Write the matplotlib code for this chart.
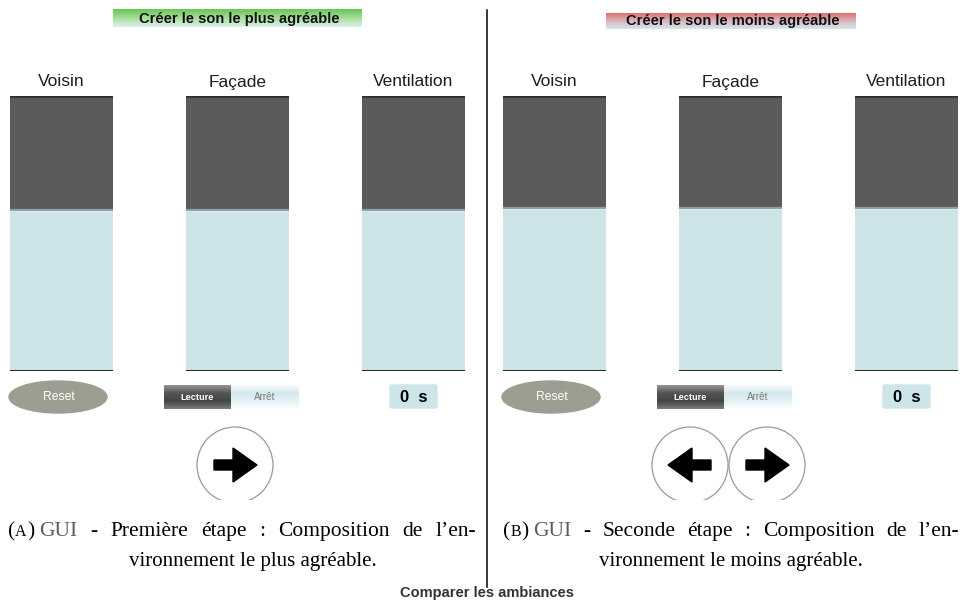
import numpy as np
import matplotlib
matplotlib.use('Agg')
import matplotlib.pyplot as plt
from matplotlib.patches import Ellipse, Circle, Rectangle, Polygon, FancyBboxPatch

plt.rcParams['font.family'] = ['Liberation Sans', 'DejaVu Sans']

# slider data (fill level of the light part, 0..1)
sources = ['Voisin', 'Façade', 'Ventilation']
levels_a = [0.585, 0.585, 0.585]
levels_b = [0.593, 0.593, 0.593]
titles = ['Créer le son le plus agréable', 'Créer le son le moins agréable']
timer_text = ['0  s', '0  s']
captions = [
    ('A', '- Première étape : Composition de l\u2019en-', 'vironnement le plus agréable.'),
    ('B', '- Seconde étape : Composition de l\u2019en-', 'vironnement le moins agréable.'),
]
footer = 'Comparer les ambiances'

W, H = 963, 603
fig = plt.figure(figsize=(W / 100, H / 100), dpi=100)
ax = fig.add_axes([0, 0, 1, 1])
ax.set_xlim(0, W)
ax.set_ylim(H, 0)
ax.axis('off')

DARK = '#5a5a5a'
LIGHT = '#cde4e8'


def gradient(x0, x1, y0, y1, stops):
    # vertical gradient box drawn with imshow, stops = list of rgb from top to bottom
    n = 64
    t = np.linspace(0, 1, n)
    pos = np.linspace(0, 1, len(stops))
    arr = np.zeros((n, 2, 3))
    for c in range(3):
        col = np.interp(t, pos, [s[c] / 255 for s in stops])
        arr[:, :, c] = col[:, None]
    ax.imshow(arr, extent=(x0, x1, y1, y0), aspect='auto', interpolation='bilinear', zorder=1)


def slider(x0, level, label):
    y_top, y_bot, w = 96, 371, 103
    sax = fig.add_axes([x0 / W, 1 - y_bot / H, w / W, (y_bot - y_top) / H])
    sax.bar(0, level, width=1, color=LIGHT, align='center')
    sax.bar(0, 1 - level, bottom=level, width=1, color=DARK, align='center')
    sax.axhline(level, color='#8ea2a5', lw=1.6)
    sax.axhline(level - 0.004, color='#e6f1f3', lw=0.6)
    sax.axhline(1, color='#2f2f2f', lw=2.6)
    sax.axhline(0, color='#2f2f2f', lw=2.2)
    sax.set_xlim(-0.5, 0.5)
    sax.set_ylim(0, 1)
    sax.axis('off')
    ax.text(x0 + w / 2, 86.5, label, ha='center', va='baseline', fontsize=12.5, color='#1e1e1e')


def arrow(cx, cy, direction):
    d = direction
    pts = [(-21, -5), (-2, -5), (-2, -17), (22, 0), (-2, 17), (-2, 5), (-21, 5)]
    pts = [(cx + d * px, cy + py) for px, py in pts]
    ax.add_patch(Polygon(pts, closed=True, color='black', zorder=4))


def button_circle(cx, cy):
    c = Circle((cx, cy), 38, facecolor='white', edgecolor='#9a9a9a', lw=0.9, zorder=3)
    ax.add_patch(c)
    clip = Rectangle((cx - 45, cy - 45), 90, 80, transform=ax.transData)
    c.set_clip_path(clip)


def text_width(t, renderer):
    inv = ax.transData.inverted()
    bb = t.get_window_extent(renderer)
    return inv.transform((bb.x1, bb.y0))[0] - inv.transform((bb.x0, bb.y0))[0]


def caption(x_left, x_right, cx2, letter, rest, line2):
    renderer = fig.canvas.get_renderer()
    serif = dict(family='Liberation Serif', ha='left', va='baseline')
    # label "(A)" sits at a fixed gap, the remaining words are justified
    label = [('(', 15.5, 'black'), (letter, 11.5, 'black'), (')', 15.5, 'black')]
    words = [[('GUI', 15.5, '#5c5c5c')]]
    words += [[(w, 15.5, 'black')] for w in rest.split(' ')]
    x = x_left
    for s, fs, col in label:
        t = ax.text(x, 536, s, fontsize=fs, color=col, **serif)
        x += text_width(t, renderer)
    x += 5
    objs = []
    total = 0
    for word in words:
        for s, fs, col in word:
            t = ax.text(0, 536, s, fontsize=fs, color=col, **serif)
            wdt = text_width(t, renderer)
            objs.append((t, wdt))
            total += wdt
    gap = (x_right - x - total) / (len(objs) - 1)
    for t, wdt in objs:
        t.set_x(x)
        x += wdt + gap
    ax.text(cx2, 566, line2, fontsize=15, color='black', family='Liberation Serif',
            ha='center', va='baseline')


panels = [(0, levels_a, [(105, 198, 85), (165, 222, 155), (222, 240, 238)]),
          (493, levels_b, [(222, 112, 112), (216, 185, 190), (212, 232, 236)])]
banner_y = [(9, 27), (13, 29)]
banner_x = [(113, 362), (606, 856)]

for i, (off, levels, stops) in enumerate(panels):
    # sliders
    for j, (name, lev) in enumerate(zip(sources, levels)):
        slider(10 + off + j * 176, lev, name)

    # title banner
    bx0, bx1 = banner_x[i]
    by0, by1 = banner_y[i]
    gradient(bx0, bx1, by0, by1, stops)
    ax.text((bx0 + bx1) / 2 + 2, (by0 + by1) / 2 + 0.5, titles[i], ha='center', va='center',
            fontsize=10.5, fontweight='bold', color='#111111', zorder=2)

    # reset button
    ax.add_patch(Ellipse((58 + off, 397), 98, 32, color='#9b9e90', zorder=2))
    ax.text(59 + off, 397.5, 'Reset', ha='center', va='center', fontsize=8.7, color='white', zorder=3)

    # lecture / arret toggle
    tx0 = 164 + off
    gradient(tx0, tx0 + 67, 385, 409, [(150, 150, 150), (85, 85, 85), (68, 68, 68), (125, 125, 125)])
    gradient(tx0 + 67, tx0 + 135, 385, 409, [(250, 252, 252), (212, 232, 237), (228, 241, 244), (252, 253, 253)])
    ax.text(tx0 + 33, 397.5, 'Lecture', ha='center', va='center', fontsize=6.6,
            fontweight='bold', color='white', zorder=3)
    ax.text(tx0 + 101, 397, 'Arrêt', ha='center', va='center', fontsize=7.2,
            color='#7a7a7a', zorder=3)

    # timer box
    ax.add_patch(FancyBboxPatch((390 + off, 385), 47, 23, boxstyle='round,pad=0,rounding_size=2',
                                color=LIGHT, zorder=2))
    ax.text(413.5 + off, 397, timer_text[i], ha='center', va='center', fontsize=12,
            fontweight='bold', color='black', zorder=3)

# navigation buttons
button_circle(235, 465)
arrow(235, 465, 1)
button_circle(690, 465)
arrow(690, 465, -1)
button_circle(767, 465)
arrow(767, 465, 1)

# separator line
ax.plot([487, 487], [10, 587], color='black', lw=1.1)

# captions
caption(8, 476, 252.5, *captions[0])
caption(503, 959, 731, *captions[1])

ax.text(487, 593, footer, ha='center', va='center', fontsize=10.5, fontweight='bold', color='#333333')

ax.set_xlim(0, W)
ax.set_ylim(H, 0)
fig.savefig('out.png', dpi=100)
